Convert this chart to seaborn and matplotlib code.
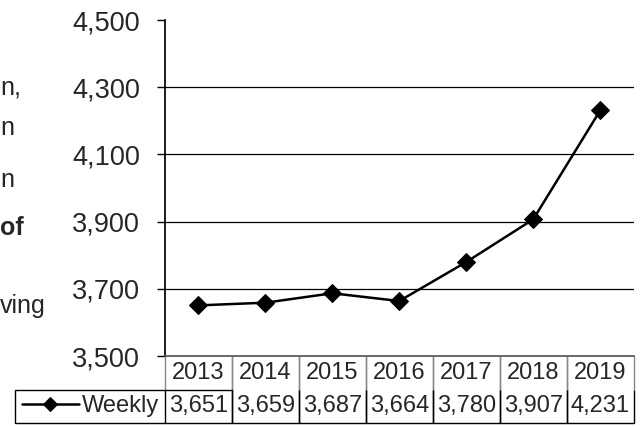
import matplotlib
matplotlib.use("Agg")
import matplotlib.pyplot as plt
import seaborn as sns
import pandas as pd

# values
years = ['2013', '2014', '2015', '2016', '2017', '2018', '2019']
weekly = [3651, 3659, 3687, 3664, 3780, 3907, 4231]
y_ticks = [3500, 3700, 3900, 4100, 4300, 4500]

sns.set_theme(style="white")
plt.rcParams['font.family'] = ['Liberation Sans', 'DejaVu Sans']

df = pd.DataFrame({'pos': range(len(years)), 'year': years, 'Weekly': weekly})

fig = plt.figure(figsize=(6.44, 4.26), dpi=100)
ax = fig.add_axes([0.256, 0.164, 0.728, 0.789])

sns.lineplot(data=df, x='pos', y='Weekly', ax=ax, color='black', linewidth=1.8,
             marker='D', markersize=9, markeredgecolor='black', label='Weekly')

ax.set_xlim(-0.5, len(years) - 0.5)
ax.set_ylim(3500, 4500)
ax.set_yticks(y_ticks)
ax.set_yticklabels([f'{v:,}' for v in y_ticks], fontsize=19.5)
ax.set_xticks([])
ax.set_xlabel('')
ax.set_ylabel('')
ax.tick_params(axis='y', direction='out', length=6, width=1, color='black', pad=12, left=True)
ax.yaxis.grid(True, color='black', linewidth=0.9)
ax.get_ygridlines()[-1].set_visible(False)
ax.get_ygridlines()[0].set_visible(False)
for s in ['top', 'right']:
    ax.spines[s].set_visible(False)
ax.spines['left'].set_color('black')
ax.spines['bottom'].set_color('#555555')

# data table below the plot
cell_text = [[''] + years, [''] + [f'{v:,}' for v in weekly]]
col_w = [150] + [67] * len(years)
tbl = ax.table(cellText=cell_text, colWidths=[w / sum(col_w) for w in col_w],
               cellLoc='center', bbox=[-150 / 469, -67 / 336, 619 / 469, 67 / 336])
tbl.auto_set_font_size(False)
tbl.set_fontsize(17)
for (r, c), cell in tbl.get_celld().items():
    cell.set_linewidth(1)
    if r == 0:
        cell.set_edgecolor('#888888')
        if c == 0:
            cell.visible_edges = ''
        else:
            cell.visible_edges = 'LR'
    else:
        cell.set_edgecolor('black')
        cell.visible_edges = 'LRB' if c > 0 else 'LTB'
        if c == 1:
            cell.visible_edges = 'LRTB'

leg = ax.legend(loc='center left', bbox_to_anchor=(-143 / 469, -50 / 336), frameon=False,
                fontsize=17, handlelength=2.4, handletextpad=0.15, borderaxespad=0,
                borderpad=0, markerscale=0.8)

# fragments of surrounding page text cut off at the left edge
fig.text(0.0, 1 - 87 / 426, 'n,', fontsize=18, va='center')
fig.text(0.0, 1 - 128 / 426, 'n', fontsize=18, va='center')
fig.text(0.0, 1 - 180 / 426, 'n', fontsize=18, va='center')
fig.text(0.0, 1 - 228 / 426, 'of', fontsize=18, va='center', fontweight='bold')
fig.text(0.0, 1 - 306 / 426, 'ving', fontsize=18, va='center')

fig.savefig('out.png', dpi=100)
